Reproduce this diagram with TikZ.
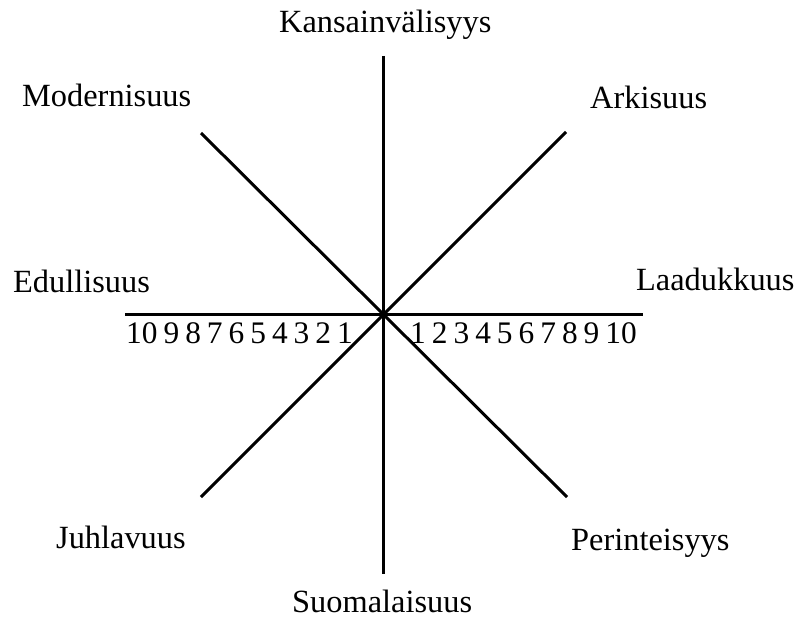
\documentclass[tikz,border=0pt]{standalone}
\usepackage{fontspec}
\setmainfont{Liberation Serif}
\newcommand\tightnums[1]{{\spaceskip=6bp\relax #1}}
\begin{document}
\begin{tikzpicture}[x=1bp,y=-1bp,
  axis/.style={line width=3bp,black},
  lbl/.style={anchor=base west,inner sep=0pt,font=\fontsize{32.5}{33}\selectfont},
  nums/.style={anchor=base west,inner sep=0pt,font=\fontsize{31.5}{32}\selectfont}]
\useasboundingbox (0,0) rectangle (800,621);
\coordinate (c) at (383,314);
\coordinate (t) at (383,56);
\coordinate (b) at (383,574);
\coordinate (l) at (125,314);
\coordinate (r) at (643,314);
\coordinate (tl) at (201,133);
\coordinate (tr) at (566,132);
\coordinate (bl) at (201,497);
\coordinate (br) at (567,497);
\draw[axis] (t) -- (b);
\draw[axis] (l) -- (r);
\draw[axis] (tl) -- (br);
\draw[axis] (bl) -- (tr);
\node[lbl] (kan) at (279,33) {Kansainvälisyys};
\node[lbl] (mod) at (22,107) {Modernisuus};
\node[lbl] (ark) at (590,109) {Arkisuus};
\node[lbl] (edu) at (13,292) {Edullisuus};
\node[lbl] (laa) at (636,290) {Laadukkuus};
\node[lbl] (juh) at (56,548) {Juhlavuus};
\node[lbl] (per) at (571,550) {Perinteisyys};
\node[lbl] (suo) at (292,612) {Suomalaisuus};
\node[nums] (nl) at (126,343) {\tightnums{10 9 8 7 6 5 4 3 2 1}};
\node[nums] (nr) at (410,343) {\tightnums{1 2 3 4 5 6 7 8 9 10}};
\end{tikzpicture}
\end{document}
